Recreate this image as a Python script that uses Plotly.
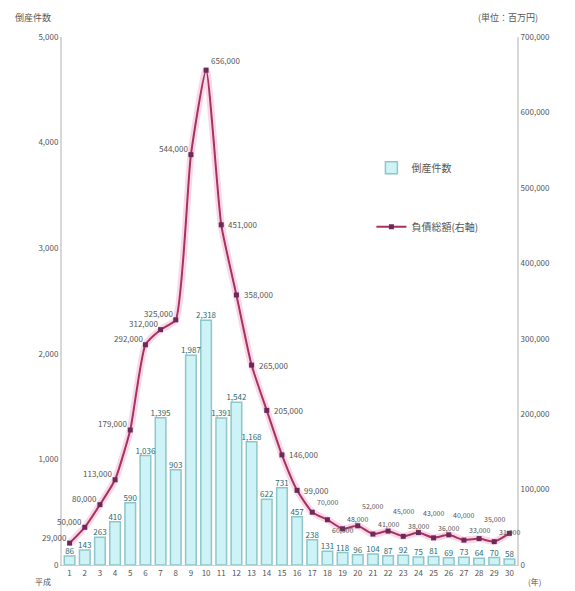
import plotly.graph_objects as go

# 平成1年〜30年の倒産件数と負債総額
years = [str(i) for i in range(1, 31)]
counts = [86, 143, 263, 410, 590, 1036, 1395, 903, 1987, 2318,
          1391, 1542, 1168, 622, 731, 457, 238, 131, 118, 96,
          104, 87, 92, 75, 81, 69, 73, 64, 70, 58]
debt = [29000, 50000, 80000, 113000, 179000, 292000, 312000, 325000, 544000, 656000,
        451000, 358000, 265000, 205000, 146000, 99000, 70000, 60000, 48000, 52000,
        41000, 45000, 38000, 43000, 36000, 40000, 33000, 35000, 31000, 42000]

left_ticks = [0, 1000, 2000, 3000, 4000, 5000]
right_ticks = [0, 100000, 200000, 300000, 400000, 500000, 600000, 700000]

font = "Noto Sans CJK JP"

fig = go.Figure()

fig.add_trace(go.Bar(
    x=years, y=counts, name="倒産件数",
    marker=dict(color="#cdf3f6", line=dict(color="#8fc6cc", width=1.5)),
    legendgroup="a",
))

# bar value labels, kept at full size
fig.add_trace(go.Scatter(
    x=years, y=counts, mode="text",
    text=[f"{v:,}" for v in counts], textposition="top center",
    textfont=dict(size=8, color="#2d6a70", family=font),
    cliponaxis=False, showlegend=False, hoverinfo="skip",
))

# soft halo under the liabilities line
fig.add_trace(go.Scatter(
    x=years, y=debt, yaxis="y2", mode="lines",
    line=dict(color="rgba(240,140,190,0.35)", width=7, shape="spline", smoothing=0.5),
    hoverinfo="skip", showlegend=False,
))

fig.add_trace(go.Scatter(
    x=years, y=debt, yaxis="y2", name="負債総額(右軸)",
    mode="lines+markers",
    line=dict(color="#a8325e", width=2, shape="spline", smoothing=0.5),
    marker=dict(symbol="square", size=5, color="#6a2a5a"),
    cliponaxis=False, legendgroup="b",
))

# liabilities value labels: left of the rising points, right of the falling
# points, staggered along the flat tail so neighbours do not collide
line_labels = []
last = len(debt) - 1
for i, (yr, v) in enumerate(zip(years, debt)):
    if i < 9:
        xa, xs, ys = "right", -16, 6
    elif i == 9:
        xa, xs, ys = "left", -12, 10
    elif i < 16:
        xa, xs, ys = "left", -10, 0
    elif i == 16:
        xa, xs, ys = "center", 0, 10
    elif i == 17:
        xa, xs, ys = "center", 0, -10
    elif i == last:
        xa, xs, ys = "center", 14, 12
    else:
        xa, xs = "center", 0
        ys = 10 if i % 2 == 0 else 20
    line_labels.append(dict(
        x=yr, y=v, xref="x", yref="y2", text=f"{v:,}", showarrow=False,
        xanchor=xa, yanchor="middle", xshift=xs, yshift=ys,
        font=dict(size=7 if i >= 16 else 8, color="#555555", family=font),
    ))

fig.update_layout(
    width=575, height=591,
    margin=dict(l=62, r=58, t=37, b=26),
    paper_bgcolor="white", plot_bgcolor="white",
    font=dict(family=font, size=9, color="#555555"),
    bargap=0.3,
    xaxis=dict(
        type="category", range=[-0.5, len(years) - 0.5],
        tickmode="array", tickvals=years, ticktext=years,
        tickfont=dict(size=8), showgrid=False,
        showline=True, linecolor="#cccccc", ticks="",
    ),
    yaxis=dict(
        range=[0, 5000], tickvals=left_ticks,
        ticktext=[f"{v:,}" for v in left_ticks],
        showgrid=False, showline=True, linecolor="#d8d8d8", linewidth=2,
        zeroline=False, tickfont=dict(size=8),
    ),
    yaxis2=dict(
        range=[0, 700000], tickvals=right_ticks,
        ticktext=[f"{v:,}" for v in right_ticks],
        overlaying="y", side="right",
        showgrid=False, showline=True, linecolor="#d8d8d8", linewidth=2,
        zeroline=False, tickfont=dict(size=8),
    ),
    legend=dict(
        x=0.68, y=0.78, xanchor="left", yanchor="top",
        bgcolor="rgba(0,0,0,0)", tracegroupgap=40,
        font=dict(size=10, color="#555555"),
    ),
    annotations=line_labels + [
        dict(text="倒産件数", xref="paper", yref="paper", x=-0.02, y=1.0,
             yshift=20, xanchor="right", yanchor="middle", showarrow=False,
             font=dict(size=9)),
        dict(text="(単位：百万円)", xref="paper", yref="paper", x=1.05, y=1.0,
             yshift=20, xanchor="right", yanchor="middle", showarrow=False,
             font=dict(size=9)),
        dict(text="平成", xref="paper", yref="paper", x=-0.02, y=0,
             yshift=-16, xanchor="right", yanchor="middle", showarrow=False,
             font=dict(size=8)),
        dict(text="(年)", xref="paper", yref="paper", x=1.02, y=0,
             yshift=-16, xanchor="left", yanchor="middle", showarrow=False,
             font=dict(size=8)),
    ],
)

fig.write_html("out.html")
